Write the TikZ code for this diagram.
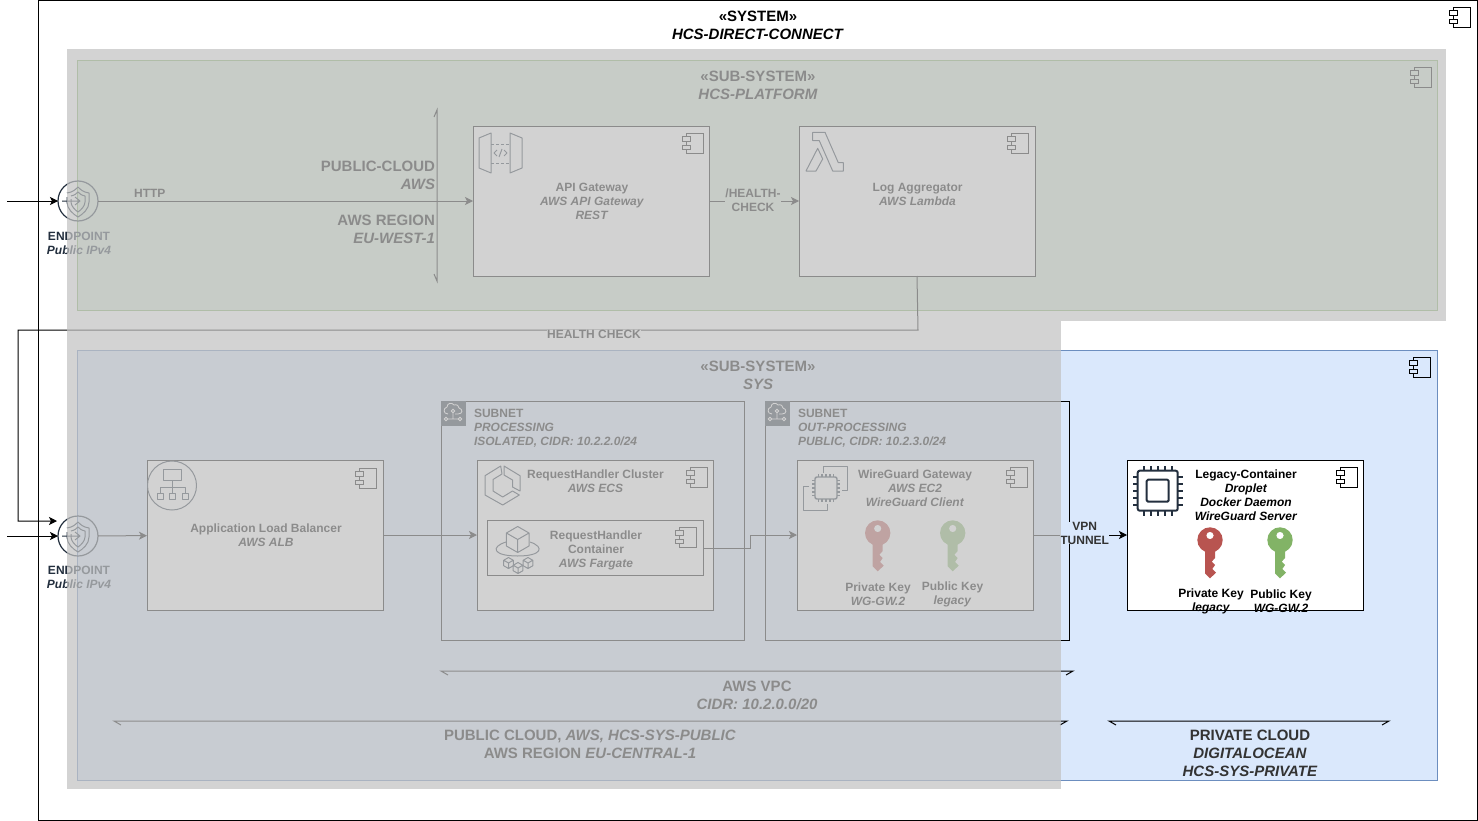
\documentclass[tikz,border=0pt]{standalone}
\usepackage{fontspec}
\setmainfont{Liberation Sans}
\usetikzlibrary{positioning,arrows.meta,shapes.geometric}
\definecolor{iconink}{HTML}{232F3E}
\definecolor{labelink}{HTML}{333333}
\definecolor{greenfill}{HTML}{D5E8D4}
\definecolor{greenline}{HTML}{82B366}
\definecolor{bluefill}{HTML}{DAE8FC}
\definecolor{blueline}{HTML}{6C8EBF}
\definecolor{redkey}{HTML}{B85450}
\definecolor{dimgray}{HTML}{C2C2C2}
\newcommand{\chipwd}{1.1pt}
\tikzset{
	every node/.style={font=\bfseries\fontsize{9}{10.5}\selectfont, align=center, inner sep=0, outer sep=0},
	>={Stealth[length=6pt,width=6pt,inset=1.5pt]},
	flow/.style={->, line width=.75pt},
	bigtxt/.style={font=\bfseries\fontsize{11.25}{13.5}\selectfont},
	panel/.style={draw, line width=.75pt, rectangle},
	compbox/.style={panel, fill=white, minimum width=177pt, minimum height=112.5pt},
	subnetbox/.style={panel, minimum height=179.25pt},
	dimpanel/.style={fill=dimgray, fill opacity=.72},
	thinicon/.style={draw=iconink, line width=.75pt, line join=round},
	pics/compicon/.style={code={
		\draw[line width=.75pt] (-6.5,-6.5) -- (-6.5,-10) -- (10.5,-10) -- (10.5,10) -- (-6.5,10) -- (-6.5,6.5)
			(-6.5,-2) -- (-6.5,2);
		\draw[line width=.75pt] (-10.5,-6.5) rectangle (-2.5,-2) (-10.5,2) rectangle (-2.5,6.5);
	}},
	pics/endpointicon/.style={code={
		\draw[thinicon] (-11,-8) .. controls (-5,-9) and (-3,-11) .. (0,-14) .. controls (3,-11) and (5,-9) .. (11,-8)
			-- (11,1) .. controls (11,8) and (5,13) .. (0,16) .. controls (-5,13) and (-11,8) .. (-11,1) -- (-11,-4);
		\draw[thinicon] (-7,-5) .. controls (-3,-6) and (-2,-7) .. (0,-9) .. controls (2,-7) and (3,-6) .. (7,-5)
			-- (7,1) .. controls (7,5) and (3,9) .. (0,11) .. controls (-3,9) and (-7,5) .. (-7,1) -- (-7,-2);
		\draw[thinicon] (-16,0) -- (1,0) (-3,-4) -- (2,0) -- (-3,4);
	}},
	pics/chipicon/.style={code={
		\draw[thinicon, rounded corners=1.5pt, line width=\chipwd] (-20,-20) rectangle (20,20);
		\foreach \pinpos in {-14,-7,0,7,14}{
			\draw[thinicon, line width=\chipwd] (\pinpos,-20) -- (\pinpos,-25) (\pinpos,20) -- (\pinpos,25)
				(-20,\pinpos) -- (-25,\pinpos) (20,\pinpos) -- (25,\pinpos);
		}
	}},
	pics/keyicon/.style={code={
		\fill[#1, even odd rule] (0,-4.5) circle (3.7)
			(-5,11.67) arc[start angle=113.2, end angle=426.8, radius=12.7]
			-- (5,18) -- (1.7,21.7) -- (5,25) -- (2.3,29) -- (6,32.7) -- (0,38.3) -- (-5,33.3) -- cycle;
	}},
	pics/cubeicon/.style={code={
		\draw[thinicon] (0,-1) -- (.87,-.5) -- (.87,.5) -- (0,1) -- (-.87,.5) -- (-.87,-.5) -- cycle
			(-.87,-.5) -- (0,0) -- (.87,-.5) (0,0) -- (0,1);
	}},
	pics/subneticon/.style={code={
		\fill[iconink] (0,0) rectangle (25,25);
		\draw[white, line width=.6pt] (7,13) .. controls (2,13) and (2,7) .. (6,6) .. controls (6,2) and (11,1) .. (13,4)
			.. controls (16,3) and (18,5) .. (18,7) .. controls (22,8) and (22,13) .. (17,13) -- (14,13);
		\draw[white, line width=.6pt] (12,10) circle (1.8) (12,12) -- (12,18) (7,18) -- (17,18);
		\draw[white, line width=.6pt] (5,18) circle (1.8) (19,18) circle (1.8);
	}}
}
\begin{document}
\begin{tikzpicture}[x=.75pt, y=-.75pt]
	\useasboundingbox (0,0) rectangle (1478,821);
	\draw[line width=.75pt] (38,.5) rectangle (1477,820.5);
	\node(title)[bigtxt] at (758,25.5) {«SYSTEM»\\\textit{HCS-DIRECT-CONNECT}};
	\pic at (1460,17) {compicon};

	% sub-systems
	\node(platform)[panel, draw=greenline, fill=greenfill, minimum width=1020pt, minimum height=187.5pt] at (757,185) {};
	\node(sys)[panel, draw=blueline, fill=bluefill, minimum width=1020pt, minimum height=322.5pt] at (757,565) {};
	\node(platformtxt)[bigtxt] at (758,85.5) {«SUB-SYSTEM»\\\textit{HCS-PLATFORM}};
	\node(systxt)[bigtxt] at (758,375.5) {«SUB-SYSTEM»\\\textit{SYS}};
	\pic at (1421,77) {compicon};
	\pic at (1420,367) {compicon};

	\node(region)[bigtxt, anchor=east, align=right] at (435,202) {PUBLIC-CLOUD\\\textit{AWS}\\[13.5pt]AWS REGION\\\textit{EU-WEST-1}};
	\coordinate(regiontop) at (437,110);
	\coordinate(regionend) at (437,281);
	\draw[line width=.75pt] (regiontop) ++(-3,7) -- (regiontop) -- (regionend) -- ++(-3,-7);

	% platform components
	\node(api)[compbox] at (591,201) {};
	\node(lambda)[compbox, right=67.5pt of api] {};
	\node(apitxt) at (592,201.5) {API Gateway\\\textit{AWS API Gateway}\\\textit{REST}};
	\node(lambdatxt) at (917.5,194.5) {Log Aggregator\\\textit{AWS Lambda}};
	\pic at (692.5,143) {compicon};
	\pic at (1018,143) {compicon};
	% gateway icon
	\draw[thinicon] (479,138) -- (491,133) -- (491,173) -- (479,168) -- cycle
		(510,133) -- (522,138) -- (522,168) -- (510,173) -- cycle;
	\draw[thinicon, dash pattern=on 2.2pt off 1.5pt] (491,144) -- (510,144) (491,163) -- (510,163);
	\draw[thinicon] (497,150) -- (494,153) -- (497,156) (504,150) -- (507,153) -- (504,156) (502,149) -- (499,157);
	% lambda icon
	\draw[thinicon] (812.7,132.3) -- (825,132.3) -- (838.3,162.7) -- (843.3,162.7) -- (843.3,171) -- (832.7,171) -- (819.3,140.7) -- (812.7,140.7) -- cycle
		(817.7,148.3) -- (822.7,159) -- (816,171) -- (806,171) -- cycle;

	% endpoints
	\node(epone)[circle, draw=iconink, line width=.9pt, minimum size=30pt] at (78,201) {};
	\node(eptwo)[circle, draw=iconink, line width=.9pt, minimum size=30pt] at (78,536) {};
	\pic at (78,201) {endpointicon};
	\pic at (78,536) {endpointicon};
	\node(eponetxt)[text=iconink] at (79,243) {ENDPOINT\\\textit{Public IPv4}};
	\node(eptwotxt)[text=iconink] at (79,577) {ENDPOINT\\\textit{Public IPv4}};

	% sys components
	\node(alb)[compbox] at (265,535) {};
	\node(albtxt) at (266,535) {Application Load Balancer\\\textit{AWS ALB}};
	\node(subnetproc)[subnetbox, minimum width=227.25pt] at (592.5,520.5) {};
	\node(subnetout)[subnetbox, minimum width=228pt] at (917,520.5) {};
	\node(cluster)[compbox] at (595,535) {};
	\node(fargate)[panel, fill=white, minimum width=162pt, minimum height=41.25pt] at (595,547.5) {};
	\node(wireguard)[compbox] at (915,535) {};
	\node(legacy)[compbox] at (1245,535) {};

	\pic at (441,401) {subneticon};
	\pic at (765,401) {subneticon};
	\node(subnetproctxt)[anchor=west, align=left] at (474,428) {SUBNET\\\textit{PROCESSING}\\\textit{ISOLATED, CIDR: 10.2.2.0/24}};
	\node(subnetouttxt)[anchor=west, align=left] at (798,428) {SUBNET\\\textit{OUT-PROCESSING}\\\textit{PUBLIC, CIDR: 10.2.3.0/24}};
	\node(clustertxt) at (595.5,481) {RequestHandler Cluster\\\textit{AWS ECS}};
	\node(fargatetxt) at (596,550) {RequestHandler\\Container\\\textit{AWS Fargate}};
	\node(wireguardtxt) at (915,488) {WireGuard Gateway\\\textit{AWS EC2}\\\textit{WireGuard Client}};
	\node(legacytxt) at (1246,495) {Legacy-Container\\\textit{Droplet}\\\textit{Docker Daemon}\\\textit{WireGuard Server}};

	\pic at (366,478) {compicon};
	\pic at (696.5,477) {compicon};
	\pic at (686,537) {compicon};
	\pic at (1016.5,477) {compicon};
	\pic at (1346.5,477) {compicon};

	% load balancer icon
	\draw[thinicon] (172,485.5) circle (24.5);
	\draw[thinicon] (163,469) rectangle (181,480) (172,480) -- (172,487) (160,493) -- (160,487) -- (185,487) -- (185,493) (172,487) -- (172,493)
		(157,493) rectangle (163,499.5) (169.5,493) rectangle (175.5,499.5) (182,493) rectangle (188,499.5);
	% cluster icon
	\draw[thinicon] (500.7,466) -- (485,475.7) -- (485,495) -- (502.7,505) -- (519.3,495) -- (512.5,491) -- (502.7,497) -- (493,491) -- (493,479.5) -- (502,474) -- cycle
		(504,466) -- (520,475.7) -- (520,491) -- (512.5,487) -- (512.5,480) -- (504,475) -- cycle;
	% container icon
	\draw[thinicon] (506,542) .. controls (490,547) and (493,556) .. (517.7,556) .. controls (542,556) and (545,547) .. (530,542);
	\fill[white] (505.7,532) rectangle (530,549);
	\pic[scale=13] at (517.7,539.5) {cubeicon};
	\pic[scale=5.5] at (508.5,563) {cubeicon};
	\pic[scale=5.5] at (518,568) {cubeicon};
	\pic[scale=5.5] at (528,563) {cubeicon};
	% ec2 icons
	\draw[thinicon] (823.3,473) -- (823.3,466.7) -- (847.3,466.7) -- (847.3,490) -- (841.7,490)
		(809.3,486) -- (803.3,486) -- (803.3,510) -- (827.7,510) -- (827.7,504);
	\pic[scale=.55] at (826,488) {chipicon};
	\begin{scope}
		\renewcommand{\chipwd}{1.5pt}
		\pic at (1157.7,490.7) {chipicon};
		\draw[thinicon, line width=1.5pt, rounded corners=1pt] (1146.7,479.7) rectangle (1168.7,501.7);
	\end{scope}

	% keys
	\pic at (877.7,533) {keyicon=redkey};
	\pic at (952.7,533) {keyicon=greenline};
	\pic at (1210,540) {keyicon=redkey};
	\pic at (1280,540) {keyicon=greenline};
	\node(wgprivtxt) at (878,594.5) {Private Key\\\textit{WG-GW.2}};
	\node(wgpubtxt) at (952.5,594.5) {Public Key\\\textit{legacy}};
	\node(legprivtxt) at (1211,601.5) {Private Key\\\textit{legacy}};
	\node(legpubtxt) at (1281,601.5) {Public Key\\\textit{WG-GW.2}};

	% connectors
	\coordinate(inone) at (7,201);
	\coordinate(intwo) at (7,536);
	\coordinate(hcturn) at (918,330);
	\coordinate(hcleft) at (18,330);
	\coordinate(hcdown) at (18,521);
	\coordinate(hcend) at (57,521);
	\draw[flow] (inone) -- (epone.west);
	\draw[flow] (intwo) -- (eptwo.west);
	\path[flow] (epone) edge node[pos=.138, yshift=6pt]{HTTP} (api);
	\path[flow] (eptwo) edge (alb);
	\path[flow] (api) edge node[fill=greenfill, xshift=-.75pt, yshift=.75pt]{/HEALTH-\\CHECK} (lambda);
	\path[flow] (alb) edge (cluster);
	\draw[flow] (fargate.east |- 0,548) -- (750,548) -- (750,535) -- (wireguard.west);
	\path[flow] (wireguard) edge node[pos=.55, fill=bluefill, yshift=1.5pt, text=labelink]{VPN\\TUNNEL} (legacy);
	\draw[flow] (lambda.south) -- (hcturn) -- node[pos=.36, fill=white, yshift=-3pt]{HEALTH CHECK} (hcleft) -- (hcdown) -- (hcend);

	% spans
	\coordinate(vpcleft) at (441,671);
	\coordinate(vpcright) at (1073,671);
	\coordinate(publeft) at (114,721);
	\coordinate(pubright) at (1067,721);
	\coordinate(privleft) at (1109,721);
	\coordinate(privright) at (1389,721);
	\draw[line width=.75pt] (vpcleft) ++(7,4) -- (vpcleft) -- (vpcright) -- ++(-7,4);
	\draw[line width=.75pt] (publeft) ++(7,4) -- (publeft) -- (pubright) -- ++(-7,4);
	\draw[line width=.75pt] (privleft) ++(7,4) -- (privleft) -- (privright) -- ++(-7,4);
	\node(vpctxt)[bigtxt] at (757,695) {AWS VPC\\\textit{CIDR: 10.2.0.0/20}};
	\node(pubtxt)[bigtxt] at (590,744.5) {PUBLIC CLOUD, \textit{AWS, HCS-SYS-PUBLIC}\\AWS REGION \textit{EU-CENTRAL-1}};
	\node(privtxt)[bigtxt, text=labelink] at (1250,753.5) {PRIVATE CLOUD\\\textit{DIGITALOCEAN}\\\textit{HCS-SYS-PRIVATE}};

	% dimmed areas
	\fill[dimpanel] (67,49) rectangle (1446,321);
	\fill[dimpanel] (67,321) rectangle (1061,789);
\end{tikzpicture}
\end{document}
